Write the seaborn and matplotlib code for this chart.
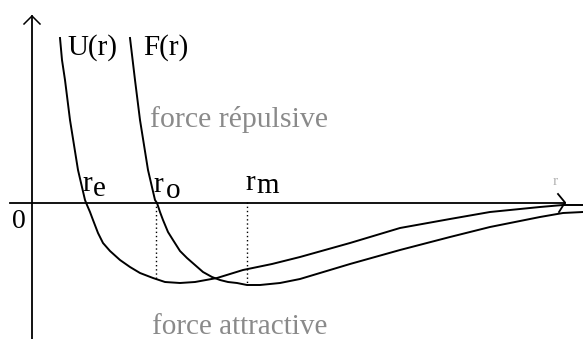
import matplotlib
matplotlib.use("Agg")
import matplotlib.pyplot as plt
import seaborn as sns
import numpy as np
import pandas as pd

# ---- data (r, value); x-axis at value 0, y-axis at r 0 ----
u_r = [28, 30, 33, 38, 46, 53, 55, 58, 61, 66, 71, 78, 88, 98, 108, 121, 133, 148, 163, 185, 211, 240, 268, 318, 368, 418, 458, 508, 531, 551]
u_v = [164, 142, 122, 82, 32, 2, -3, -10, -18, -31, -41, -49, -58, -65, -71, -76, -80, -81, -80, -76, -68, -62, -55, -41, -26, -17, -10, -5, -3, -3]
f_r = [98, 103, 108, 116, 123, 125, 128, 131, 136, 141, 148, 155, 163, 171, 180, 188, 196, 205, 215, 228, 248, 268, 318, 368, 418, 458, 508, 531, 551]
f_v = [164, 122, 82, 32, 2, -1, -10, -18, -30, -38, -49, -56, -63, -70, -75, -78, -80, -81, -83, -83, -81, -77, -62, -48, -35, -25, -15, -11, -10]
r_zero_force = 124
r_min_force = 215
labels_top = ["U(r)", "F(r)"]
text_rep = "force répulsive"
text_att = "force attractive"

W, H = 583, 339
X0, Y0 = 32, 202  # pixel position of origin

fig = plt.figure(figsize=(W / 100, H / 100), dpi=100)
ax = fig.add_axes([0, 0, 1, 1])
ax.set_xlim(-X0, W - X0)
ax.set_ylim(Y0 - H, Y0)
ax.axis("off")

def px(x, y):
    return x - X0, Y0 - y

df_u = pd.DataFrame({"r": u_r, "v": u_v})
df_f = pd.DataFrame({"r": f_r, "v": f_v})
sns.lineplot(data=df_u, x="r", y="v", ax=ax, color="black", lw=1.4, sort=False, estimator=None)
sns.lineplot(data=df_f, x="r", y="v", ax=ax, color="black", lw=1.4, sort=False, estimator=None)

# axes with arrows
ax.plot(*zip(px(10, 202.5), px(565, 202.5)), color="black", lw=1.3)
ax.plot(*zip(px(558, 194), px(565, 202.5), px(559, 212)), color="black", lw=1.3)
ax.plot(*zip(px(32, 16), px(32, 339)), color="black", lw=1.3)
ax.plot(*zip(px(24, 24), px(32, 16), px(40, 24)), color="black", lw=1.1)

# dotted guides
v0 = np.interp(r_zero_force, u_r, u_v)
vm = np.interp(r_min_force, f_r, f_v)
ax.plot([r_zero_force, r_zero_force], [0, v0], color="black", lw=1.0, ls=(0, (1, 2)))
ax.plot([r_min_force, r_min_force], [0, vm], color="black", lw=1.0, ls=(0, (1, 2)))

serif = "Liberation Serif"
def t(x, y, s, size=21, color="black", **kw):
    ax.text(*px(x, y), s, fontsize=size, family=serif, color=color, ha="left", va="baseline", **kw)

t(67, 55, labels_top[0])
t(143, 55, labels_top[1])
t(150, 127, text_rep, size=21.5, color="#8a8a8a")
t(152, 334, text_att, size=21, color="#8a8a8a")
t(82, 191, "r")
t(93, 196, "e")
t(153, 192, "r")
t(166, 198, "o")
t(245, 190, "r")
t(256, 193, "m")
t(12, 228, "0", size=20)
t(553, 185, "r", size=11, color="#b0b0b0")

fig.savefig("out.png", dpi=100)
